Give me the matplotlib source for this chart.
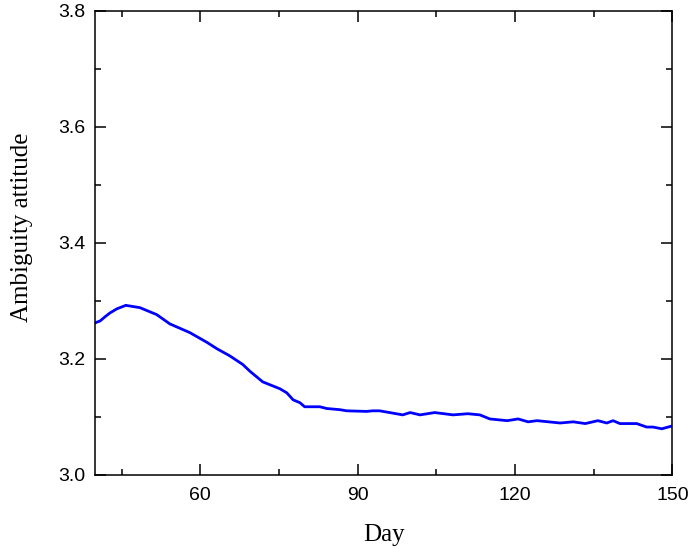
import numpy as np
import matplotlib
matplotlib.use("Agg")
import matplotlib.pyplot as plt
from matplotlib.ticker import MultipleLocator

# --- data ---
day = [40.0, 40.9, 41.8, 42.8, 44.1, 45.8, 48.5, 51.7, 54.2, 58.0, 61.3, 63.2,
       65.6, 68.1, 69.5, 71.9, 75.2, 76.5, 77.7, 79.0, 79.9, 82.8, 84.1, 86.6,
       87.9, 91.7, 92.9, 94.2, 96.1, 98.6, 100.0, 101.9, 104.7, 108.2, 111.0,
       113.3, 115.2, 118.5, 120.6, 122.5, 124.2, 128.6, 131.1, 133.4, 135.8,
       137.5, 138.7, 140.0, 143.2, 145.1, 146.3, 148.0, 150.0]
ambiguity = [3.262, 3.265, 3.272, 3.279, 3.286, 3.292, 3.288, 3.276, 3.260,
             3.245, 3.228, 3.217, 3.205, 3.190, 3.178, 3.160, 3.148, 3.141,
             3.129, 3.124, 3.117, 3.117, 3.114, 3.112, 3.110, 3.109, 3.110,
             3.110, 3.107, 3.103, 3.107, 3.103, 3.107, 3.103, 3.105, 3.103,
             3.096, 3.093, 3.096, 3.091, 3.093, 3.089, 3.091, 3.088, 3.093,
             3.089, 3.093, 3.088, 3.088, 3.082, 3.082, 3.079, 3.084]

LINE_COLOR = "#0000FF"
TICK_FONT = ["Liberation Sans", "Arial", "DejaVu Sans"]
LABEL_FONT = ["Liberation Serif", "Times New Roman", "DejaVu Serif"]

fig = plt.figure(figsize=(6.91, 5.48), dpi=100)
ax = fig.add_axes([0.138, 0.134, 0.835, 0.846])

ax.plot(day, ambiguity, color=LINE_COLOR, lw=2.0)

ax.set_xlim(40, 150)
ax.set_ylim(3.0, 3.8)
ax.xaxis.set_major_locator(MultipleLocator(30))
ax.xaxis.set_minor_locator(MultipleLocator(15))
ax.yaxis.set_major_locator(MultipleLocator(0.2))
ax.yaxis.set_minor_locator(MultipleLocator(0.1))
ax.set_xticks([60, 90, 120, 150])

ax.tick_params(which="both", direction="in", top=True, right=True, width=1.1)
ax.tick_params(which="major", length=8, pad=7, labelsize=14)
ax.tick_params(axis="x", which="major", pad=9)
ax.tick_params(which="minor", length=4)
for lbl in ax.get_xticklabels() + ax.get_yticklabels():
    lbl.set_family(TICK_FONT)
for s in ax.spines.values():
    s.set_linewidth(1.1)

ax.set_xlabel("Day", fontsize=18, family=LABEL_FONT, labelpad=14)
ax.set_ylabel("Ambiguity attitude", fontsize=18, family=LABEL_FONT)
ax.yaxis.set_label_coords(-0.108, 0.534)

fig.savefig("out.png", dpi=100)
